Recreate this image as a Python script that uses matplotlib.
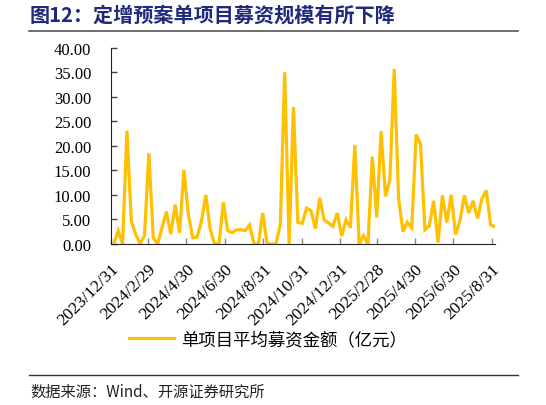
import pandas as pd
import matplotlib
matplotlib.use("Agg")
import matplotlib.pyplot as plt

# weekly values (亿元)
values = [
    0.0, 2.7, 0.0, 23.1, 4.6, 2.0, 0.0, 1.7, 18.5, 1.3,
    0.0, 3.3, 6.6, 2.0, 8.0, 2.3, 15.1, 6.1, 1.3, 1.4,
    4.6, 10.0, 3.0, 0.0, 0.0, 8.5, 2.7, 2.3, 2.9, 2.9,
    2.7, 3.9, 0.0, 0.0, 6.3, 0.0, 0.0, 0.0, 3.9, 35.0,
    0.0, 27.9, 4.4, 4.2, 7.3, 6.8, 3.1, 9.4, 4.9, 4.3,
    3.6, 6.3, 1.6, 4.9, 3.3, 20.2, 0.0, 1.7, 0.0, 17.8,
    5.4, 23.0, 9.7, 13.0, 35.7, 9.2, 2.5, 4.4, 3.3, 22.3,
    20.4, 2.9, 3.7, 8.8, 0.3, 9.9, 4.4, 10.0, 1.9, 4.8,
    9.9, 6.3, 8.8, 5.2, 9.2, 10.9, 3.9, 3.5,
]
dates = pd.date_range("2024-01-05", periods=len(values), freq="7D")

tick_labels = [
    "2023/12/31", "2024/2/29", "2024/4/30", "2024/6/30", "2024/8/31",
    "2024/10/31", "2024/12/31", "2025/2/28", "2025/4/30", "2025/6/30",
    "2025/8/31",
]
tick_dates = pd.to_datetime(tick_labels, format="%Y/%m/%d")

title = "图12：定增预案单项目募资规模有所下降"
series_name = "单项目平均募资金额（亿元）"
source = "数据来源：Wind、开源证券研究所"

cjk = ["Noto Sans CJK SC", "DejaVu Sans"]
serif = ["Liberation Serif", "Noto Sans CJK SC"]

fig = plt.figure(figsize=(5.46, 4.06), dpi=100)
ax = fig.add_axes([0.2027, 0.3966, 0.7039, 0.4834])

line, = ax.plot(dates, values, color="#FFC000", lw=2.3, solid_joinstyle="miter")

ax.set_ylim(0, 40)
ax.set_yticks(range(0, 41, 5))
ax.set_yticklabels([f"{v:.2f}" for v in range(0, 41, 5)], family=serif, fontsize=12)
ax.set_xlim(pd.Timestamp("2023-12-31"), dates[-1])
ax.set_xticks(tick_dates)
ax.set_xticklabels(tick_labels, family=serif, fontsize=12.5, rotation=45,
                   ha="right", rotation_mode="anchor")

ax.tick_params(axis="y", direction="in", length=4, width=1, color="#444444", pad=14)
ax.tick_params(axis="x", direction="in", length=4, width=1, color="#888888", pad=12)
for s in ["top", "right"]:
    ax.spines[s].set_visible(False)
ax.spines["left"].set_color("#222222")
ax.spines["bottom"].set_color("#222222")

fig.legend([line], [series_name], loc="center", bbox_to_anchor=(0.49, 0.162),
           frameon=False, prop={"family": cjk, "size": 12.5}, handlelength=2.6,
           handletextpad=0.4)

# title and source, with rules
fig.text(0.055, 0.962, title, family=cjk, fontsize=14.5, fontweight="bold",
         color="#1F2A7A", va="center", ha="left")
fig.add_artist(plt.Line2D([0.053, 0.949], [0.921, 0.921], color="#555555", lw=1.2))
fig.add_artist(plt.Line2D([0.053, 0.949], [0.074, 0.074], color="#333333", lw=1.0))
fig.text(0.055, 0.035, source, family=cjk, fontsize=11, color="#222222",
         va="center", ha="left")

fig.savefig("out.png", dpi=100)
